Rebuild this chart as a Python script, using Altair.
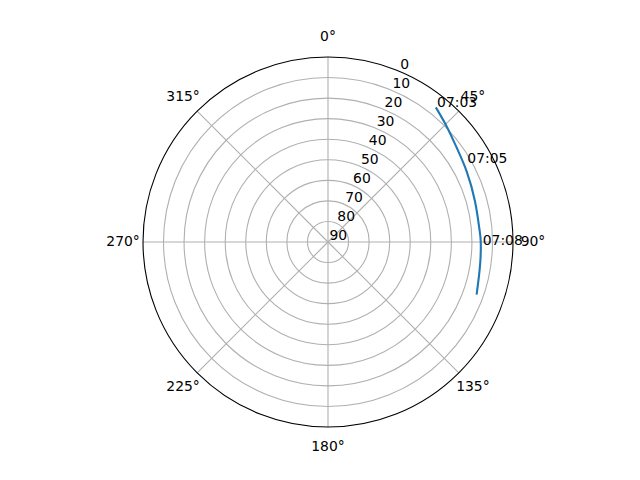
import altair as alt
import pandas as pd

# sun path readings (azimuth in degrees, elevation in degrees)
azimuth = [38.7, 45.7, 53.8, 63.0, 74.5, 84.7, 89.7, 97.2, 104.7, 109.5]
elevation = [6.1, 9.4, 12.4, 14.3, 15.8, 16.1, 15.7, 15.3, 14.4, 13.3]

# time annotations
time_labels = ["07:03", "07:05", "07:08"]
time_az = [39.0, 60.6, 91.2]
time_el = [5.7, 12.2, 14.7]

# grid
ring_levels = [10, 20, 30, 40, 50, 60, 70, 80]
spoke_angles = [0, 45, 90, 135, 180, 225, 270, 315]
spoke_labels = ["0°", "45°", "90°", "135°", "180°", "225°", "270°", "315°"]
r_tick_values = [0, 10, 20, 30, 40, 50, 60, 70, 80, 90]
r_tick_labels = ["0", "10", "20", "30", "40", "50", "60", "70", "80", "90"]

SIZE = 370
FONT = "DejaVu Sans"
FS = 13.9

xs = alt.Scale(domain=[-90, 90])
ys = alt.Scale(domain=[-90, 90])
rs = alt.Scale(type="linear", domain=[0, 90], range=[0, SIZE / 2])

line_df = pd.DataFrame({"az": azimuth, "el": elevation, "i": list(range(len(azimuth)))})
time_df = pd.DataFrame({"label": time_labels, "az": time_az, "el": time_el})
ring_df = pd.DataFrame({"el": ring_levels})
outer_df = pd.DataFrame({"el": [0]})
spoke_df = pd.DataFrame({"a": spoke_angles, "label": spoke_labels})
rtick_df = pd.DataFrame({"el": r_tick_values, "label": r_tick_labels})

rings = alt.Chart(ring_df).transform_calculate(rr="90 - datum.el").mark_arc(
    theta=0, theta2=6.2832, filled=False, stroke="#b0b0b0", strokeWidth=1.1
).encode(radius=alt.Radius("rr:Q", scale=rs, stack=None))

outer = alt.Chart(outer_df).transform_calculate(rr="90 - datum.el").mark_arc(
    theta=0, theta2=6.2832, filled=False, stroke="black", strokeWidth=1.1
).encode(radius=alt.Radius("rr:Q", scale=rs, stack=None))

spokes = alt.Chart(spoke_df).transform_calculate(
    x0="0", y0="0",
    x1="90 * sin(datum.a * PI / 180)",
    y1="90 * cos(datum.a * PI / 180)",
).mark_rule(color="#b0b0b0", strokeWidth=1.1).encode(
    x=alt.X("x0:Q", scale=xs, axis=None),
    y=alt.Y("y0:Q", scale=ys, axis=None),
    x2="x1:Q",
    y2="y1:Q",
)

spoke_text = alt.Chart(spoke_df).transform_calculate(
    tx="99.7 * sin(datum.a * PI / 180)",
    ty="99.7 * cos(datum.a * PI / 180)",
).mark_text(font=FONT, fontSize=FS, align="center", baseline="middle", color="black").encode(
    x=alt.X("tx:Q", scale=xs, axis=None),
    y=alt.Y("ty:Q", scale=ys, axis=None),
    text="label:N",
)

rtick_text = alt.Chart(rtick_df).transform_calculate(
    tx="(90 - datum.el) * sin(22.5 * PI / 180)",
    ty="(90 - datum.el) * cos(22.5 * PI / 180)",
).mark_text(font=FONT, fontSize=FS, align="left", baseline="alphabetic", dx=1.5, dy=-2.5, color="black").encode(
    x=alt.X("tx:Q", scale=xs, axis=None),
    y=alt.Y("ty:Q", scale=ys, axis=None),
    text="label:N",
)

path = alt.Chart(line_df).transform_calculate(
    px="(90 - datum.el) * sin(datum.az * PI / 180)",
    py="(90 - datum.el) * cos(datum.az * PI / 180)",
).mark_line(color="#1f77b4", strokeWidth=2.1, interpolate="natural").encode(
    x=alt.X("px:Q", scale=xs, axis=None),
    y=alt.Y("py:Q", scale=ys, axis=None),
    order="i:Q",
)

time_text = alt.Chart(time_df).transform_calculate(
    px="(90 - datum.el) * sin(datum.az * PI / 180)",
    py="(90 - datum.el) * cos(datum.az * PI / 180)",
).mark_text(font=FONT, fontSize=FS, align="left", baseline="alphabetic", color="black").encode(
    x=alt.X("px:Q", scale=xs, axis=None),
    y=alt.Y("py:Q", scale=ys, axis=None),
    text="label:N",
)

chart = alt.layer(
    rings, spokes, path, outer, spoke_text, rtick_text, time_text
).properties(
    width=SIZE,
    height=SIZE,
    autosize=alt.AutoSizeParams(type="none"),
    padding={"left": 135, "top": 49, "right": 119, "bottom": 45},
    background="white",
).configure_view(stroke=None)

chart.save("out.html", embed_options={"renderer": "svg", "actions": False})
